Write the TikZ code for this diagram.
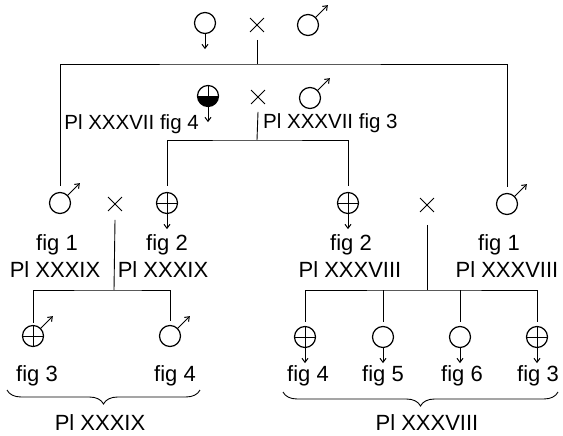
\documentclass[tikz,border=0pt]{standalone}
\usepackage{fontspec}
\setmainfont{Liberation Sans}
\usetikzlibrary{shapes.misc,decorations.pathreplacing,arrows.meta}
\tikzset{
 conn/.style={line width=0.9pt},
 sym/.style={circle, draw, line width=1.2pt, minimum size=21pt, inner sep=0pt},
 crossed/.style={sym, path picture={\draw[line width=0.9pt] (path picture bounding box.north) -- (path picture bounding box.south) (path picture bounding box.west) -- (path picture bounding box.east);}},
 halfblack/.style={sym, path picture={\fill (path picture bounding box.west) rectangle (path picture bounding box.south east); \draw[line width=0.9pt] (path picture bounding box.center) -- (path picture bounding box.north);}},
 times/.style={cross out, draw, line width=0.9pt, minimum size=13pt, inner sep=0pt},
 tipline/.style={line width=1pt, -{Straight Barb[length=4pt,width=6pt]}},
 lab/.style={font=\fontsize{22}{26}\selectfont, inner sep=0pt},
 labsmall/.style={font=\fontsize{20.5}{24}\selectfont, inner sep=0pt},
 bracedown/.style={line width=0.9pt, decorate, decoration={brace, mirror, amplitude=14pt}},
}
\begin{document}
\begin{tikzpicture}[x=1pt,y=-1pt]
\useasboundingbox (0,0) rectangle (563,436);
% row 0
\node[sym] (p1) at (205,23) {};
\node[times] (x0) at (257,25) {};
\node[sym] (p2) at (308,25) {};
\draw[tipline] (p1.south) -- ++(0,15);
\draw[tipline] (p2.45) -- ++(12,-12);
% row 2
\node[halfblack] (q1) at (208,96) {};
\node[times] (x2) at (258,97) {};
\node[sym] (q2) at (310,98) {};
\draw[tipline] (q1.south) -- ++(0,15);
\draw[tipline] (q2.45) -- ++(12,-12);
\node[labsmall, anchor=east] (l2a) at (199,124) {Pl XXXVII fig 4};
\node[labsmall, anchor=west] (l2b) at (263,123) {Pl XXXVII fig 3};
% row 3
\node[sym] (m3L) at (60,203) {};
\node[times] (x3L) at (115,204) {};
\node[crossed] (h3L) at (167,203) {};
\node[crossed] (h3R) at (348,203) {};
\node[times] (x3R) at (427,205) {};
\node[sym] (m3R) at (507,204) {};
\draw[tipline] (m3L.45) -- ++(12,-12);
\draw[tipline] (m3R.45) -- ++(12,-12);
\draw[tipline] (h3L.south) -- ++(0,15);
\draw[tipline] (h3R.south) -- ++(0,15);
\node[lab] (t1a) at (57,245) {fig 1};
\node[lab] (t1b) at (55,270) {Pl XXXIX};
\node[lab] (t2a) at (167,245) {fig 2};
\node[lab] (t2b) at (163,270) {Pl XXXIX};
\node[lab] (t3a) at (351,245) {fig 2};
\node[lab] (t3b) at (350,270) {Pl XXXVIII};
\node[lab] (t4a) at (499,245) {fig 1};
\node[lab] (t4b) at (507,270) {Pl XXXVIII};
% row 4 left
\node[crossed] (a1) at (33,336) {};
\node[sym] (a2) at (170,336) {};
\draw[tipline] (a1.45) -- ++(12,-12);
\draw[tipline] (a2.45) -- ++(12,-12);
\node[lab] (u1) at (37,376) {fig 3};
\node[lab] (u2) at (175,376) {fig 4};
% row 4 right
\node[crossed] (c1) at (305,337) {};
\node[sym] (c2) at (383,337) {};
\node[sym] (c3) at (460,337) {};
\node[crossed] (c4) at (537,337) {};
\foreach \n in {c1,c2,c3,c4} \draw[tipline] (\n.south) -- ++(0,15);
\node[lab] (v1) at (308,376) {fig 4};
\node[lab] (v2) at (383,376) {fig 5};
\node[lab] (v3) at (462,376) {fig 6};
\node[lab] (v4) at (538,376) {fig 3};
% connectors
\coordinate (b0) at (257,64);
\coordinate (b2) at (257,140);
\coordinate (b3L) at (114,290);
\coordinate (b3R) at (427,290);
\draw[conn] ([yshift=-8pt]x0.south) -- (b0);
\draw[conn, shorten <=6pt, shorten >=6pt] (m3L.north) |- (b0) -| (m3R.north);
\draw[conn] ([yshift=-8pt]x2.south) -- (b2);
\draw[conn, shorten <=6pt, shorten >=6pt] (h3L.north) |- (b2) -| (h3R.north);
\draw[conn] ([yshift=-9pt]x3L.south) -- (b3L);
\draw[conn, shorten <=2pt, shorten >=4pt] (a1.north) |- (b3L) -| (a2.north);
\draw[conn] ([yshift=-13pt]x3R.south) -- (b3R);
\draw[conn, shorten <=4pt, shorten >=4pt] (c1.north) |- (b3R) -| (c4.north);
\draw[conn, shorten >=4pt] (c2.north |- b3R) -- (c2.north);
\draw[conn, shorten >=4pt] (c3.north |- b3R) -- (c3.north);
% braces
\coordinate (br1a) at (7,390);
\coordinate (br1b) at (200,390);
\coordinate (br2a) at (283,392);
\coordinate (br2b) at (558,392);
\draw[bracedown] (br1a) -- (br1b);
\draw[bracedown] (br2a) -- (br2b);
\node[lab] (w1) at (100,423) {Pl XXXIX};
\node[lab] (w2) at (427,423) {Pl XXXVIII};
\end{tikzpicture}
\end{document}
